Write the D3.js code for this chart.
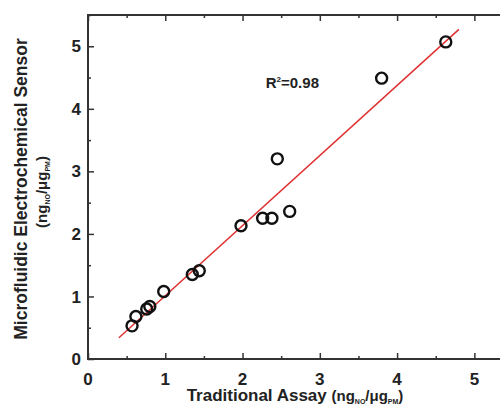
<!DOCTYPE html>
<html lang="en">
<head>
    <meta charset="UTF-8">
    <title>Sensor vs Assay</title>
    <script src="https://cdn.jsdelivr.net/npm/d3@7"></script>
    <style>
        body, html { margin: 0; padding: 0; overflow: hidden; background: #fff; }
        svg { display: block; }
        text { font-family: "Liberation Sans", Arial, sans-serif; font-weight: bold; }
    </style>
</head>
<body>
    <svg id="mainsvg"></svg>
    <script>
        // values
        const assay  = [0.57, 0.62, 0.76, 0.80, 0.98, 1.35, 1.44, 1.98, 2.26, 2.38, 2.45, 2.61, 3.80, 4.63];
        const sensor = [0.53, 0.68, 0.80, 0.84, 1.08, 1.35, 1.41, 2.13, 2.25, 2.25, 3.20, 2.36, 4.49, 5.07];
        const fitX = [0.40, 4.80];
        const fitY = [0.34, 5.27];
        const tickValues = [0, 1, 2, 3, 4, 5];
        const minorTicks = [0.5, 1.5, 2.5, 3.5, 4.5, 5.5];

        const width = 500, height = 409;
        const svg = d3.select('svg').attr('width', width).attr('height', height);

        const margin = { top: 15, left: 88 };
        const innerWidth = 425;
        const innerHeight = 344;

        const g = svg.append('g').attr('transform', `translate(${margin.left}, ${margin.top})`);

        const xScale = d3.scaleLinear().domain([0, 5.5]).range([0, innerWidth]);
        const yScale = d3.scaleLinear().domain([0, 5.5]).range([innerHeight, 0]);

        const axisColor = '#333';

        // frame
        g.append('rect')
            .attr('x', 0).attr('y', 0)
            .attr('width', innerWidth).attr('height', innerHeight)
            .attr('fill', 'none').attr('stroke', axisColor).attr('stroke-width', 2);

        // ticks (inward) on the sides, no labels from the axis itself
        const styleAxis = sel => {
            sel.select('.domain').remove();
            sel.selectAll('text').remove();
            sel.selectAll('line').attr('stroke', axisColor).attr('stroke-width', 1.5);
        };
        const major = 6, minor = 3;
        g.append('g').attr('transform', `translate(0, ${innerHeight})`)
            .call(d3.axisTop(xScale).tickValues(tickValues).tickSize(major)).call(styleAxis);
        g.append('g').attr('transform', `translate(0, ${innerHeight})`)
            .call(d3.axisTop(xScale).tickValues(minorTicks).tickSize(minor)).call(styleAxis);
        g.append('g')
            .call(d3.axisBottom(xScale).tickValues(tickValues).tickSize(major)).call(styleAxis);
        g.append('g')
            .call(d3.axisBottom(xScale).tickValues(minorTicks).tickSize(minor)).call(styleAxis);
        g.append('g')
            .call(d3.axisRight(yScale).tickValues(tickValues).tickSize(major)).call(styleAxis);
        g.append('g')
            .call(d3.axisRight(yScale).tickValues(minorTicks).tickSize(minor)).call(styleAxis);

        // tick labels
        g.selectAll('.xlab').data(tickValues).enter().append('text')
            .attr('class', 'xlab')
            .attr('x', d => xScale(d))
            .attr('y', innerHeight + 26)
            .attr('text-anchor', 'middle')
            .attr('font-size', 17)
            .attr('fill', '#222')
            .text(d => d);
        g.selectAll('.ylab').data(tickValues).enter().append('text')
            .attr('class', 'ylab')
            .attr('x', -7)
            .attr('y', d => yScale(d))
            .attr('dy', '0.36em')
            .attr('text-anchor', 'end')
            .attr('font-size', 17)
            .attr('fill', '#222')
            .text(d => d);

        // fit line
        g.append('line')
            .attr('x1', xScale(fitX[0])).attr('y1', yScale(fitY[0]))
            .attr('x2', xScale(fitX[1])).attr('y2', yScale(fitY[1]))
            .attr('stroke', '#e03030').attr('stroke-width', 1.5);

        // points
        g.selectAll('circle').data(assay).enter().append('circle')
            .attr('cx', d => xScale(d))
            .attr('cy', (d, i) => yScale(sensor[i]))
            .attr('r', 5.5)
            .attr('fill', 'none')
            .attr('stroke', '#111')
            .attr('stroke-width', 2.4);

        // R^2 note
        const r2 = g.append('text')
            .attr('x', xScale(2.3)).attr('y', 73)
            .attr('font-size', 15).attr('fill', '#222');
        r2.append('tspan').text('R');
        r2.append('tspan').attr('font-size', 8).attr('dy', -6).text('2');
        r2.append('tspan').attr('dy', 6).text('=0.98');

        // x title
        const xt = svg.append('text')
            .attr('x', 295).attr('y', 401)
            .attr('text-anchor', 'middle')
            .attr('font-size', 17).attr('fill', '#222');
        xt.append('tspan').text('Traditional Assay ');
        xt.append('tspan').attr('font-size', 15).text('(ng');
        xt.append('tspan').attr('font-size', 7).attr('dy', 3).text('NO');
        xt.append('tspan').attr('font-size', 15).attr('dy', -3).text('/\u03bcg');
        xt.append('tspan').attr('font-size', 7).attr('dy', 3).text('PM');
        xt.append('tspan').attr('font-size', 15).attr('dy', -3).text(')');

        // y title
        svg.append('text')
            .attr('transform', 'translate(27, 189) rotate(-90)')
            .attr('text-anchor', 'middle')
            .attr('font-size', 17.5).attr('fill', '#222')
            .text('Microfluidic Electrochemical Sensor');
        const yt = svg.append('text')
            .attr('transform', 'translate(47, 192) rotate(-90)')
            .attr('text-anchor', 'middle')
            .attr('font-size', 15).attr('fill', '#222');
        yt.append('tspan').text('(ng');
        yt.append('tspan').attr('font-size', 7).attr('dy', 3).text('NO');
        yt.append('tspan').attr('dy', -3).text('/\u03bcg');
        yt.append('tspan').attr('font-size', 7).attr('dy', 3).text('PM');
        yt.append('tspan').attr('dy', -3).text(')');
    </script>
</body>
</html>
